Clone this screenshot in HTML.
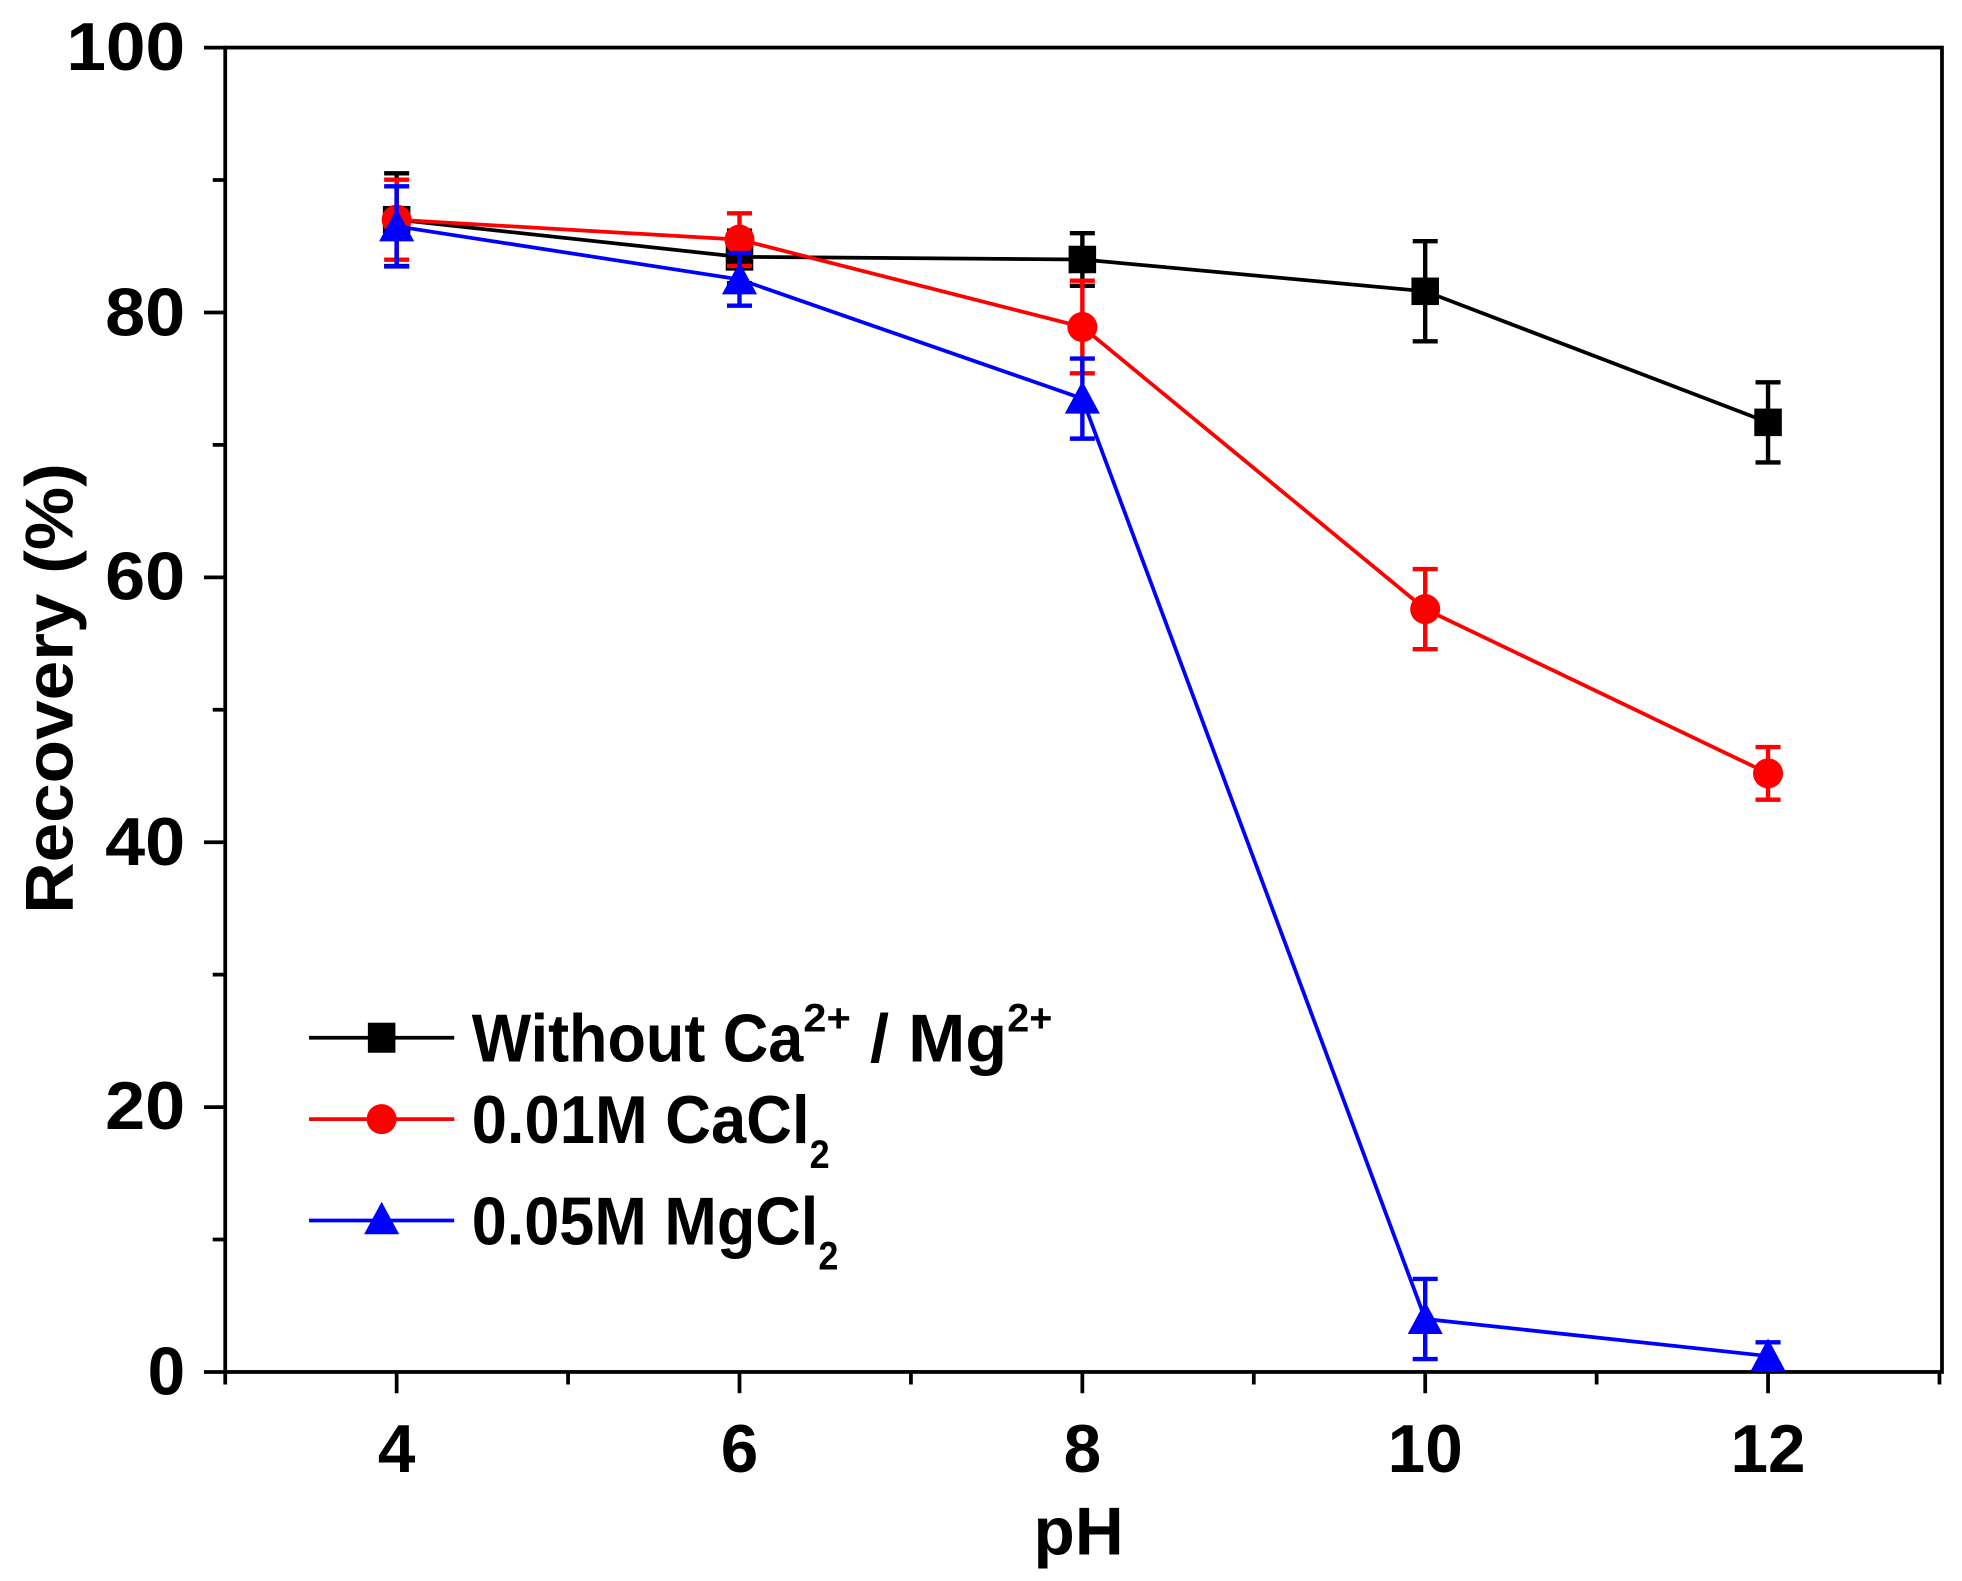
<!DOCTYPE html>
<html><head><meta charset="utf-8"><style>html,body{margin:0;padding:0;background:#fff}svg{display:block}</style></head>
<body>
<svg width="1962" height="1581" viewBox="0 0 1568 1263" preserveAspectRatio="none" xmlns="http://www.w3.org/2000/svg" font-family="Liberation Sans, Arial, sans-serif" font-weight="bold">
<rect x="0" y="0" width="1568" height="1263" fill="#fff"/>
<g stroke="#000" stroke-width="3" fill="none">
<rect x="180" y="38" width="1372" height="1058"/>
<path d="M163 1096H180M163 884.4H180M163 672.8H180M163 461.2H180M163 249.6H180M163 38H180"/>
<path d="M170 990.2H180M170 778.6H180M170 567H180M170 355.4H180M170 143.8H180"/>
<path d="M317 1096V1113M591 1096V1113M865 1096V1113M1139 1096V1113M1413 1096V1113"/>
<path d="M180 1096V1106M454 1096V1106M728 1096V1106M1002 1096V1106M1276 1096V1106M1550 1096V1106"/>
</g>
<g font-size="54" text-anchor="end" lengthAdjust="spacingAndGlyphs">
<text x="148" y="1114" textLength="30" lengthAdjust="spacingAndGlyphs">0</text>
<text x="148" y="902" textLength="64" lengthAdjust="spacingAndGlyphs">20</text>
<text x="148" y="691" textLength="64" lengthAdjust="spacingAndGlyphs">40</text>
<text x="148" y="479" textLength="64" lengthAdjust="spacingAndGlyphs">60</text>
<text x="148" y="268" textLength="64" lengthAdjust="spacingAndGlyphs">80</text>
<text x="148" y="56" textLength="95" lengthAdjust="spacingAndGlyphs">100</text>
</g>
<g font-size="54" text-anchor="middle">
<text x="317" y="1176" textLength="30" lengthAdjust="spacingAndGlyphs">4</text>
<text x="591" y="1176" textLength="30" lengthAdjust="spacingAndGlyphs">6</text>
<text x="865" y="1176" textLength="30" lengthAdjust="spacingAndGlyphs">8</text>
<text x="1139" y="1176" textLength="60" lengthAdjust="spacingAndGlyphs">10</text>
<text x="1413" y="1176" textLength="60" lengthAdjust="spacingAndGlyphs">12</text>
<text x="862" y="1242" textLength="72" lengthAdjust="spacingAndGlyphs">pH</text>
<text transform="translate(58,550) rotate(-90)" textLength="360" lengthAdjust="spacingAndGlyphs">Recovery (%)</text>
</g>
<g stroke="#000" stroke-width="3" fill="none">
<polyline points="317,175.5 591,205.2 865,207.3 1139,232.7 1413,337.4"/>
<path d="M317 138.5V212.5M307 138.5H327M307 212.5H327 M591 184.2V226.2M581 184.2H601M581 226.2H601 M865 186.3V228.3M855 186.3H875M855 228.3H875 M1139 192.7V272.7M1129 192.7H1149M1129 272.7H1149 M1413 305.4V369.4M1403 305.4H1423M1403 369.4H1423" stroke-width="3.5"/>
</g>
<g fill="#000"><rect x="306" y="164.5" width="22" height="22"/><rect x="580" y="194.2" width="22" height="22"/><rect x="854" y="196.3" width="22" height="22"/><rect x="1128" y="221.7" width="22" height="22"/><rect x="1402" y="326.4" width="22" height="22"/></g>
<g stroke="#f00" stroke-width="3" fill="none">
<polyline points="317,175.5 591,191.4 865,261.2 1139,486.6 1413,617.8"/>
<path d="M317 143.5V207.5M307 143.5H327M307 207.5H327 M591 170.4V212.4M581 170.4H601M581 212.4H601 M865 224.2V298.2M855 224.2H875M855 298.2H875 M1139 454.6V518.6M1129 454.6H1149M1129 518.6H1149 M1413 596.8V638.8M1403 596.8H1423M1403 638.8H1423" stroke-width="3.5"/>
</g>
<g fill="#f00"><circle cx="317" cy="175.5" r="12"/><circle cx="591" cy="191.4" r="12"/><circle cx="865" cy="261.2" r="12"/><circle cx="1139" cy="486.6" r="12"/><circle cx="1413" cy="617.8" r="12"/></g>
<g stroke="#00f" stroke-width="3" fill="none">
<polyline points="317,180.8 591,223.2 865,318.4 1139,1053.7 1413,1083.3"/>
<path d="M317 148.8V212.8M307 148.8H327M307 212.8H327 M591 202.2V244.2M581 202.2H601M581 244.2H601 M865 286.4V350.4M855 286.4H875M855 350.4H875 M1139 1021.7V1085.7M1129 1021.7H1149M1129 1085.7H1149 M1413 1072.3V1094.3M1403 1072.3H1423M1403 1094.3H1423" stroke-width="3.5"/>
</g>
<g fill="#00f">
<polygon points="317,166.8 303,192.8 331,192.8"/><polygon points="591,209.2 577,235.2 605,235.2"/><polygon points="865,304.4 851,330.4 879,330.4"/><polygon points="1139,1039.7 1125,1065.7 1153,1065.7"/><polygon points="1413,1069.3 1399,1095.3 1427,1095.3"/>
</g>
<g stroke-width="3">
<line x1="247" y1="829" x2="363" y2="829" stroke="#000"/><rect x="294" y="817" width="22" height="24" fill="#000"/>
<line x1="247" y1="894" x2="363" y2="894" stroke="#f00"/><circle cx="305" cy="894" r="12" fill="#f00"/>
<line x1="247" y1="975" x2="363" y2="975" stroke="#00f"/><polygon points="305,960 291,986 319,986" fill="#00f"/>
</g>
<g font-size="54">
<text x="377" y="848"><tspan textLength="265" lengthAdjust="spacingAndGlyphs">Without Ca</tspan><tspan font-size="32" dy="-24" textLength="38" lengthAdjust="spacingAndGlyphs">2+</tspan><tspan dy="24" textLength="125" lengthAdjust="spacingAndGlyphs"> / Mg</tspan><tspan font-size="32" dy="-24" textLength="36" lengthAdjust="spacingAndGlyphs">2+</tspan></text>
<text x="377" y="913"><tspan textLength="270" lengthAdjust="spacingAndGlyphs">0.01M CaCl</tspan><tspan font-size="32" dy="20" textLength="16" lengthAdjust="spacingAndGlyphs">2</tspan></text>
<text x="377" y="994"><tspan textLength="277" lengthAdjust="spacingAndGlyphs">0.05M MgCl</tspan><tspan font-size="32" dy="20" textLength="16" lengthAdjust="spacingAndGlyphs">2</tspan></text>
</g>
</svg>
</body></html>
